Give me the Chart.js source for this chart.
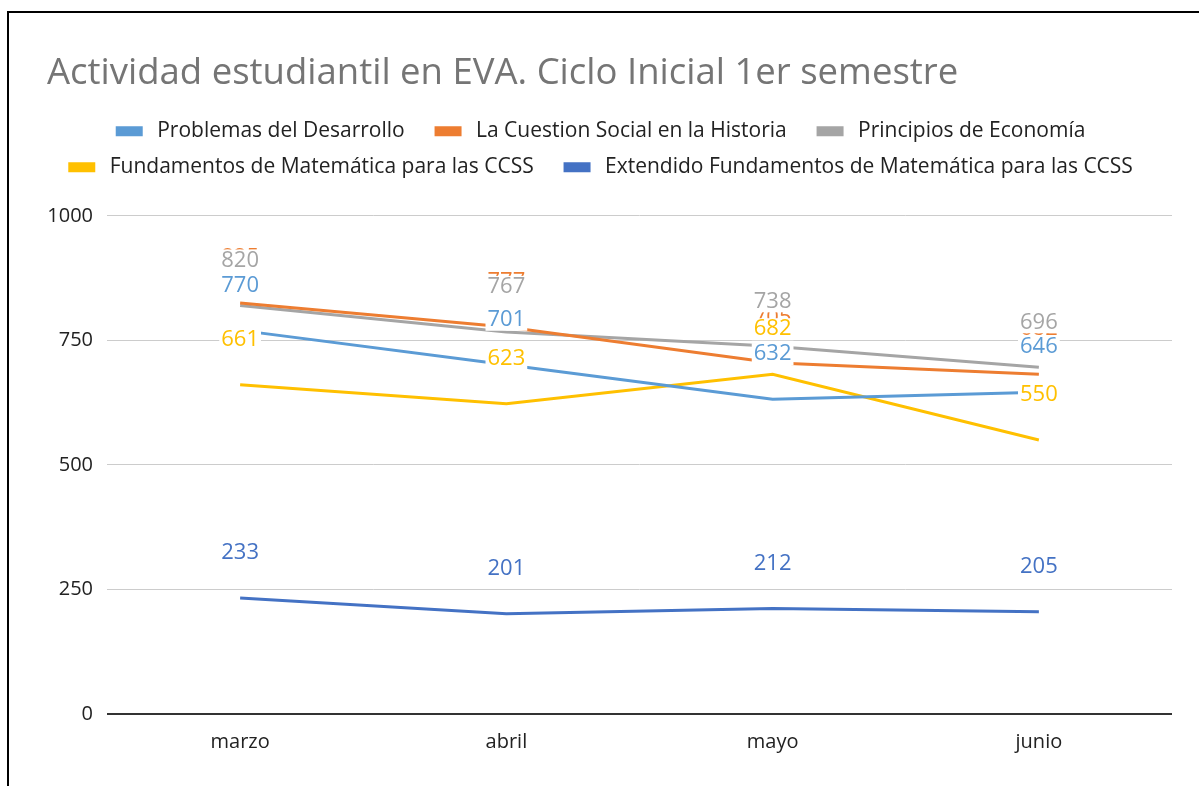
<!DOCTYPE html>
<html>
<head>
<meta charset="utf-8">
<script src="https://cdn.jsdelivr.net/npm/chart.js@4/dist/chart.umd.min.js"></script>
<style>
  body { margin: 0; background: #fff; overflow: hidden; }
  #wrap { position: absolute; left: 0; top: 0; width: 1199px; height: 786px; }
  #frame { position: absolute; left: 7px; top: 11px; width: 1300px; height: 900px; border: 2px solid #000; pointer-events: none; }
</style>
</head>
<body>
<div id="wrap"><canvas id="chart" width="1199" height="786"></canvas></div>
<div id="frame"></div>
<script>
var months = ['marzo', 'abril', 'mayo', 'junio'];
var problemas = [770, 701, 632, 646];
var cuestionSocial = [825, 777, 705, 682];
var economia = [820, 767, 738, 696];
var fundamentos = [661, 623, 682, 550];
var extendido = [233, 201, 212, 205];
var yTicks = [0, 250, 500, 750, 1000];

var FONT = "'Open Sans', sans-serif";

// draws the value above each point with a white box behind it
var valueLabels = {
  id: 'valueLabels',
  afterDatasetsDraw: function(chart) {
    var ctx = chart.ctx;
    var order = [1, 0, 2, 3, 4];
    ctx.save();
    ctx.font = '22px ' + FONT;
    ctx.textAlign = 'center';
    ctx.textBaseline = 'middle';
    order.forEach(function(i) {
      var ds = chart.data.datasets[i];
      chart.getDatasetMeta(i).data.forEach(function(pt, j) {
        var txt = String(ds.data[j]);
        var w = ctx.measureText(txt).width;
        var y = pt.y - 45;
        ctx.fillStyle = '#fff';
        ctx.fillRect(pt.x - w / 2 - 2, y - 11, w + 4, 22);
        ctx.fillStyle = ds.borderColor;
        ctx.fillText(txt, pt.x, y);
      });
    });
    ctx.restore();
  }
};

// empty box between legend and plot area
var spacer = {
  id: 'spacer',
  beforeInit: function(chart) {
    Chart.layouts.addBox(chart, {
      position: 'top', weight: 1, fullSize: true, options: {},
      left: 0, top: 0, right: 0, bottom: 0, width: 0, height: 0,
      isHorizontal: function() { return true; },
      update: function(maxWidth) { this.width = maxWidth; this.height = 28; },
      draw: function() {}
    });
  }
};

function line(label, data, color) {
  return { label: label, data: data, borderColor: color, backgroundColor: color,
           borderWidth: 3, pointRadius: 0, tension: 0 };
}

new Chart(document.getElementById('chart'), {
  type: 'line',
  data: {
    labels: months,
    datasets: [
      line('Problemas del Desarrollo', problemas, '#5b9bd5'),
      line('La Cuestion Social en la Historia', cuestionSocial, '#ed7d31'),
      line('Principios de Economía', economia, '#a5a5a5'),
      line('Fundamentos de Matemática para las CCSS', fundamentos, '#ffc000'),
      line('Extendido Fundamentos de Matemática para las CCSS', extendido, '#4472c4')
    ]
  },
  options: {
    responsive: false,
    animation: false,
    layout: { padding: { left: 47, right: 27, top: 41, bottom: 0 } },
    plugins: {
      title: {
        display: true,
        text: 'Actividad estudiantil en EVA. Ciclo Inicial 1er semestre',
        align: 'start',
        color: '#757575',
        font: { family: FONT, size: 36.5, weight: 'normal' },
        padding: { top: 11, bottom: 10 }
      },
      legend: {
        labels: {
          color: '#222',
          font: { family: FONT, size: 21 },
          boxWidth: 24,
          boxHeight: 7,
          padding: 15,
          generateLabels: function(chart) {
            var items = Chart.defaults.plugins.legend.labels.generateLabels(chart);
            items.forEach(function(it) { it.text = ' ' + it.text + '   '; });
            return items;
          }
        }
      },
      tooltip: { enabled: false }
    },
    scales: {
      x: {
        offset: true,
        grid: { display: false },
        border: { display: false },
        ticks: { color: '#222', font: { family: FONT, size: 20 }, padding: 8 },
        afterFit: function(s) { s.height = 72; }
      },
      y: {
        min: 0,
        max: 1000,
        afterBuildTicks: function(s) { s.ticks = yTicks.map(function(v) { return { value: v }; }); },
        grid: {
          drawTicks: false,
          color: function(c) { return c.tick && c.tick.value === 0 ? '#333' : '#ccc'; },
          lineWidth: function(c) { return c.tick && c.tick.value === 0 ? 2 : 1; }
        },
        border: { display: false },
        ticks: {
          color: '#222', font: { family: FONT, size: 20 }, padding: 14,
          callback: function(v) { return String(v); }
        },
        afterFit: function(s) { s.width = 60; }
      }
    }
  },
  plugins: [valueLabels, spacer]
});
</script>
</body>
</html>
